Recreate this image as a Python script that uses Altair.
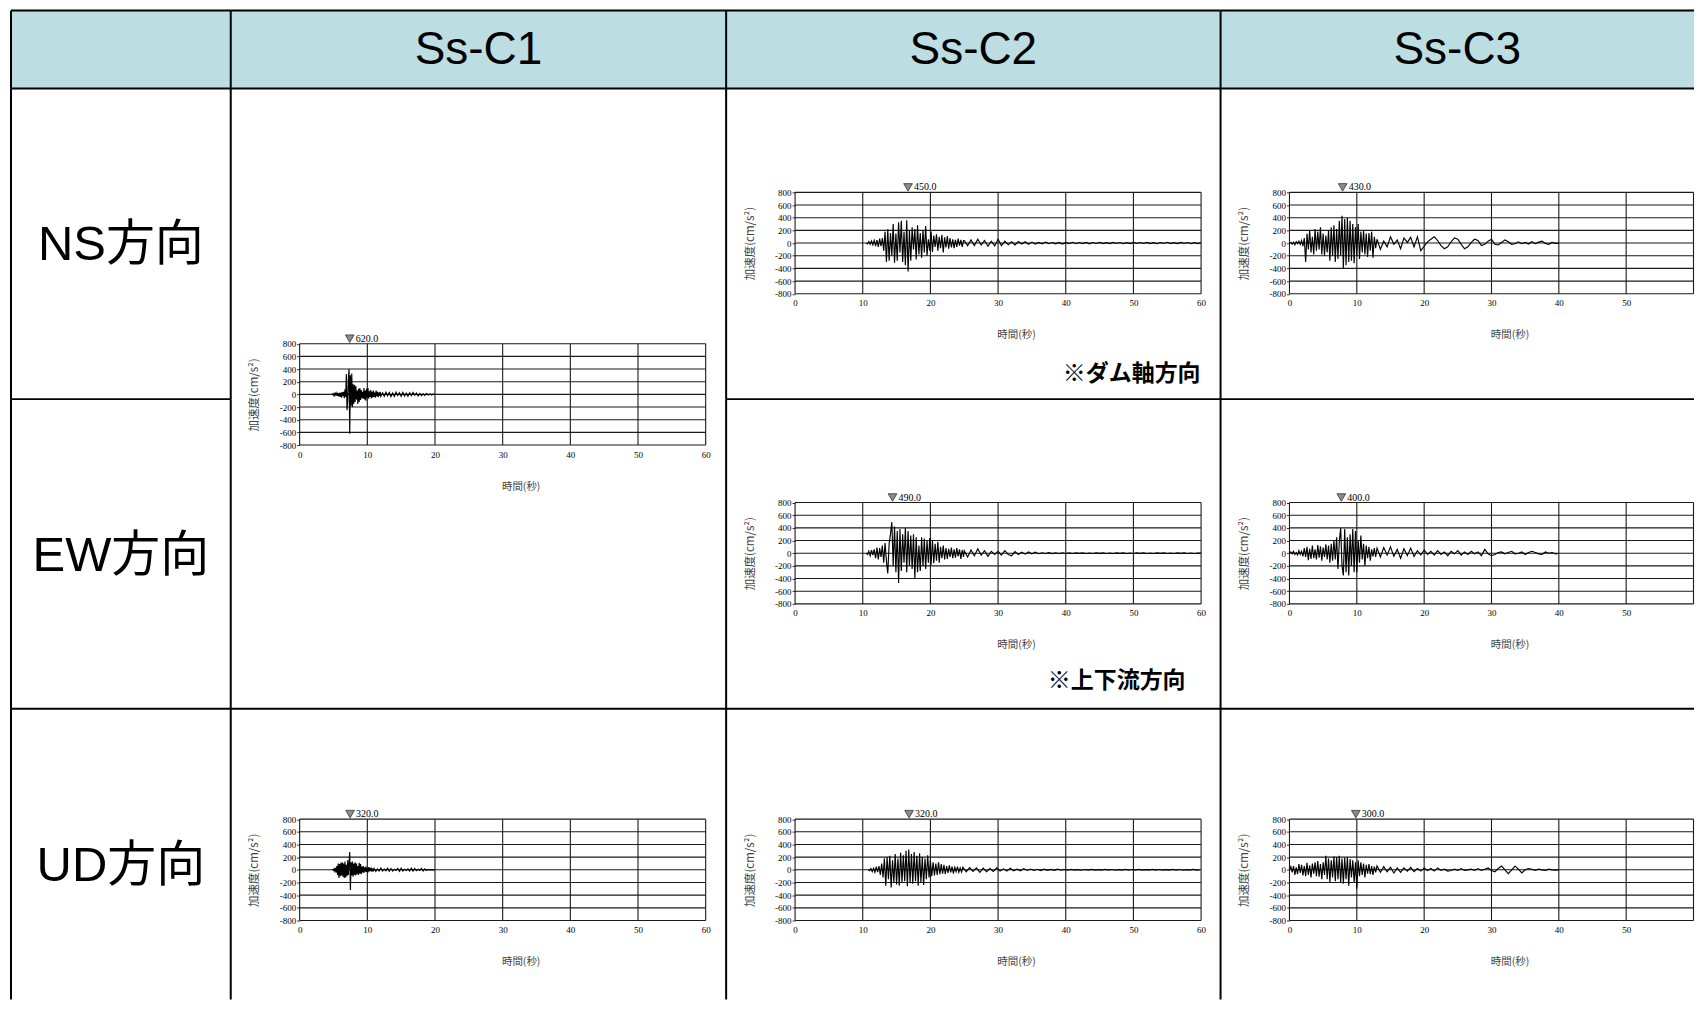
import altair as alt
import pandas as pd

# ---------------- text content ----------------
HEADERS = ["Ss-C1", "Ss-C2", "Ss-C3"]
DIRECTIONS = ["NS方向", "EW方向", "UD方向"]
NOTE_C2_NS = "※ダム軸方向"
NOTE_C2_EW = "※上下流方向"
X_TITLE = "時間(秒)"
Y_TITLE = "加速度(cm/s²)"
X_TICKS = [0, 10, 20, 30, 40, 50, 60]
Y_TICKS = [-800, -600, -400, -200, 0, 200, 400, 600, 800]

# peak markers (time read from the triangle position, label as printed)
PEAK_TIMES = [7.4, 7.45, 16.7, 14.4, 16.85, 7.9, 7.7, 9.85]
PEAK_LABELS = ["620.0", "320.0", "450.0", "490.0", "320.0", "430.0", "400.0", "300.0"]

# ---------------- waveforms ----------------
C1_NS_A = [0, 10, -15, 12, -20, 15, -10, 20, -25, 18, -30, 25, -40, 30, -50, 35, -30, 40,
           -60, 80, -40, 320, -250, -100, 250, 400, -620, 300,
           -180, 330, -200, 160, -150, 150, -120, 130, -80, 60,
           -150, 90, -120, 100, -90, 70, -60, 40, -70, 100,
           -80, 60, -100, 90, -50, 100, -70, 50, -40, 70,
           -60, 40, -50, 60, -40, 30, -50, 60, -30, 40,
           -45, 30, -25, 40]
C1_NS_B = [-30, 25, -30, 35, -25, 30, -35, 20, -30, 35, -20, 25, -30, 30, -25, 20, -30,
           25, -20, 30, -15, 20, -25, 15, -20, 10, -15, 12, -10, 8, -10, 5, 0]

C1_UD_A = [0, 5, -10, 15, -20, 30, -40, 60, -80, 100,
           -130, 90, -100, 110, -90, 120, -110, 100, -130, 130,
           -120, 80, -100, 150, -80, 120, 280, -320, 120, -90,
           130, -110, 100, -80, 120, -90, 100, -70, 60, -80,
           110, -60, 90, -70, 50, -40, 60, -50, 40, -30,
           50, -35, 30, -40, 45, -25, 30, -20, 35, -30,
           20, -25]
C1_UD_B = [20, -25, 15, -20, 25, -20, 10, -15, 25, -25, 20, -20, 10, -10, 20, -25, 25,
           -20, 10, -10, 15, -20, 25, -20, 20, -15, 10, -10, 20, -20, 15, -10, 5, -5, 3, 0, 0]

C2_NS_A = [0, -15, 25, -20, 35, -30, 40, -50, 45, -60, 70, -50, 80,
           -120, 180, -300, 220, -280, 160, -200, 300, -310, 150,
           -280, 330, -150, 350, -300, 180, -350, 360, -450, 200,
           -280, 250, -100, 220, -260, 280, -180, 160, -230, 200,
           -150, 270, -200, 60, -120, 180, -140, 120, -60, 140,
           -120, 100, -80, 130, -150, 90, -70, 110, -90, 80,
           -70, 60, -80, 50, -60, 70, -40, 50, -60, 40]
C2_NS_B = [40, -40, 50, -40, 60, -30, 40, -50, 30, -45,
           60, -40, 30, -25, 20, -30, 25, -15, 20, -20,
           15, -15, 10, -12, 15, -10, 8, -12, 10, -15,
           10, -8, 12, -10, 8, -8, 10, -12, 8, -6,
           10, -8, 6, -8, 10, -6, 8, -10, 6, -8,
           10, -6, 8, -6, 10, -8, 6, -10, 8, -6,
           12, -8, 6, -8, 10, -6, 8, -10, 6, -8, 5]

C2_EW_A = [0, -20, 30, -40, 50, -30, 60, -80, 90, -100, 80, -60, 120,
           -150, 160, -120, -320, 150, 300, 490, -200, 420, -300,
           350, -470, 380, -280, 300, -150, 400, -300, 350, -200,
           280, -250, 300, -400, 250, -300, 120, -280, 250, -200,
           230, -250, 200, -150, 240, -180, 200, -160, 150, -120,
           180, -150, 100, -80, 120, -100, 80, -90, 70, -60,
           90, -80, 60, -70, 80, -50, 60, -90, 50, -60]
C2_EW_B = [40, -60, 50, -40, 70, -30, 40, -50, 30, -20,
           30, -30, 40, -20, -40, 25, -20, 15, -15, 20,
           -10, 15, -8, 6, -5, 8, -6, 5, -4, 6,
           -5, 4, -4, 5, -3, 4, -5, 3, -4, 5,
           -3, 4, -4, 3, -5, 4, -3, 5, -4, 3,
           -4, 5, -3, 4, -4, 3, -5, 4, -3, 4,
           -4, 3, -5, 4, -3, 4, -4, 3, -4, 3, 0]

C2_UD_A = [0, -15, 20, -30, 25, -40, 50, -35, 60, -80,
           100, -120, 180, -250, 200, -150, 220, -280, 150, -200,
           250, -230, 180, -250, 270, -200, 230, -180, 300, -260,
           320, -200, 250, -220, 280, -180, 220, -250, 260, -200,
           200, -240, 180, -150, 230, -120, 150, -100, 120, -90,
           100, -80, 120, -70, 90, -60, 80, -70, 60, -50,
           70, -40, 50, -60, 40, -30, 50, -40, 30, -35]
C2_UD_B = [40, -30, 35, -25, 30, -40, 25, -30, 20, -25,
           30, -20, 15, -20, 25, -15, 10, -15, 20, -10,
           12, -10, 8, -12, 10, -8, 6, -8, 10, -6,
           5, -4, 6, -5, 4, -6, 5, -4, 6, -5,
           4, -5, 6, -4, 5, -6, 4, -5, 6, -4,
           5, -4, 6, -5, 4, -5, 6, -4, 5, -4,
           4, -5, 6, -4, 5, -6, 4, -5, 6, -4, 0]

C3_NS_A = [0, 10, -20, 15, -30, 20, -10, 30, -20, 40,
           -50, 80, -300, 150, -100, 200, -150, 100, -180, 220,
           -120, 180, -100, 250, -180, 150, -200, 120, -150, 200,
           -280, 250, -200, 280, -300, 220, -250, 350, -200, 430,
           -400, 380, -350, 400, -300, 350, -280, 300, -320, 250,
           -200, 300, -250, 180, -150, 200, -180, 150, -220, 160,
           -120, 180, -230, 100, -80]
C3_NS_B = [60, -100, 30, -60, 100, -20, 50, -90, 80, 10, 90, -60, 100, -120,
           -50, 20, 60, 100, 40, -40, -90, -60, 20, 80, 60, -20, -90, -60, 10, 60, 40, -40, -20, 30,
           60, -20, -30, 10, 50, 20, -20, -10, 20, -10, 10, -15, 20, -10, 15, 30, -5, -20, 10, -5, 0]

C3_EW_A = [0, 20, -10, 30, -20, 10, -30, 40, -20, 30,
           -50, 80, -60, 100, -110, 70, -90, 120, -80, 60,
           -100, 130, -70, 110, -120, 90, -60, 140, -100, 120,
           -150, 150, -120, 200, -100, 250, -250, 180, 400, -200,
           -350, 380, -300, 250, -350, 300, -200, 380, -300, 350,
           -300, 200, -150, 280, -100, 150, -200, 120, -80, 100,
           -120, 60, -50, 80, -60]
C3_EW_B = [80, -60, 90, -30, 100, -50, 60, -80, 70, -40, 80, -50, 40, -30,
           50, -20, 30, -30, 40, -20, 20, -40, 30, -10, 40, -30, 20, -20, 30, -10, 20, -40, 60, -10,
           -40, -20, 10, 20, -10, 10, 30, -10, 0, 20, -20, 10, 30, 10, -10, -20, 20, 0, 10, -10, 0]

C3_UD_A = [0, 50, -40, 60, -80, 40, -70, 90, -50, 80,
           -90, 60, -100, 110, -80, 70, -120, 100, -60, 120,
           -100, 140, -110, 90, -150, 120, -80, 220, -150, 180,
           -200, 150, -120, 210, -180, 200, -150, 220, -200, 180,
           -220, 190, -150, 200, -250, 170, -120, 150, -200, 120,
           -300, 150, -100, 120, -80, 100, -120, 80, -60, 90,
           -70, 60, -80, 50, -40]
C3_UD_B = [60, -40, 50, -30, 40, -50, 30, -40, 30, -20, 40, -30, 20, -20,
           30, -10, 20, -20, 30, -10, 10, -20, -10, 10, -10, 20, -10, 0, 10, -10, 20, -10, 10, 30,
           -10, -30, 20, 60, 0, -60, 0, 60, 10, -50, 0, 20, 10, -10, 10, 0, -10, 10, 0, -5, 0]

# ---------------- layout / style ----------------
COL_W = [220, 496, 495, 474]
ROW_H = [78, 311, 310, 291]
PLOT_X = 69
PLOT_W = 406.5
PLOT_W_LAST = 404.5      # right-most column is cut by the page edge
PLOT_H = 101.5
PLOT_TOP = [104, 103.5, 110.5]
PLOT_TOP_MERGED = 255.5
HEADER_FILL = "#BCDEE3"
SANS = "Liberation Sans, Noto Sans CJK JP"
SERIF = "Liberation Serif"
CJK = "Noto Sans CJK JP"
ONE = alt.Data(values=[{"e": 1}])


def wave_df(t0a, dta, va, t0b, dtb, vb):
    t = [round(t0a + i * dta, 3) for i in range(len(va))]
    t += [round(t0b + i * dtb, 3) for i in range(len(vb))]
    return pd.DataFrame({"t": t, "a": list(va) + list(vb)})


def top_edge(w):
    return alt.Chart(ONE).mark_rule(color="black", strokeWidth=2).encode(
        x=alt.value(0), x2=alt.value(w), y=alt.value(0))


def left_edge(h):
    return alt.Chart(ONE).mark_rule(color="black", strokeWidth=2).encode(
        x=alt.value(0), y=alt.value(0), y2=alt.value(h))


def header_cell(w, h, label):
    layers = [alt.Chart(ONE).mark_rect(color=HEADER_FILL).encode(
        x=alt.value(0), x2=alt.value(w), y=alt.value(0), y2=alt.value(h))]
    if label:
        layers.append(alt.Chart(alt.Data(values=[{"label": label}])).mark_text(
            font="Liberation Sans", fontSize=46, color="black", align="center", baseline="middle"
        ).encode(x=alt.value(w / 2), y=alt.value(39), text="label:N"))
    layers += [top_edge(w), left_edge(h)]
    return alt.layer(*layers).properties(width=w, height=h)


def label_cell(w, h, label):
    txt = alt.Chart(alt.Data(values=[{"label": label}])).mark_text(
        font=SANS, fontSize=49, color="black", align="center", baseline="middle"
    ).encode(x=alt.value(w / 2), y=alt.value(157), text="label:N")
    return alt.layer(txt, top_edge(w), left_edge(h)).properties(width=w, height=h)


def empty_cell(w, h):
    return alt.layer(left_edge(h)).properties(width=w, height=h)


def wave_cell(w, h, top, df, peak_t, peak_label, note=None, note_x=0, note_y=0,
              plot_w=PLOT_W, cut=False):
    yb = top + PLOT_H
    xs = alt.Scale(domain=[0, 60], range=[PLOT_X, PLOT_X + plot_w], nice=False, zero=False)
    ys = alt.Scale(domain=[-800, 800], range=[yb, top], nice=False, zero=False)
    x_expr = "datum.value == 60 ? '' : '' + datum.value" if cut else "'' + datum.value"
    xax = alt.Axis(values=X_TICKS, grid=False, domain=False, ticks=False, labelPadding=5,
                   labelFont=SERIF, labelFontSize=9, labelColor="black", labelFlush=False,
                   labelOverlap=False, labelExpr=x_expr, offset=yb - h,
                   title=X_TITLE, titleFont=CJK, titleFontSize=10.5, titleFontWeight="normal",
                   titleColor="#444", titleX=PLOT_X + plot_w / 2 + 18, titleY=41,
                   titleAlign="center", titleBaseline="middle")
    yax = alt.Axis(values=Y_TICKS, grid=False, domain=False, ticks=True, tickSize=3,
                   tickColor="black", tickWidth=0.8, labelPadding=1, labelFont=SERIF,
                   labelFontSize=9, labelColor="black", labelOverlap=False, labelFlush=False,
                   labelExpr="'' + datum.value", offset=-PLOT_X,
                   title=Y_TITLE, titleFont=CJK, titleFontSize=11.5, titleFontWeight="normal",
                   titleColor="#444", titleX=-45, titleY=top + PLOT_H / 2, titleAngle=270,
                   titleAlign="center", titleBaseline="middle")

    vgrid = pd.DataFrame({"t": X_TICKS, "lo": [-800] * len(X_TICKS), "hi": [800] * len(X_TICKS)})
    hgrid = pd.DataFrame({"v": Y_TICKS, "x0": [0] * len(Y_TICKS), "x1": [60] * len(Y_TICKS)})
    peak = pd.DataFrame({"t": [peak_t], "top": [800], "label": [peak_label]})

    g1 = alt.Chart(vgrid).mark_rule(color="#1a1a1a", strokeWidth=1.1).encode(
        x=alt.X("t:Q", scale=xs, axis=xax), y=alt.Y("lo:Q", scale=ys, axis=yax), y2="hi:Q")
    g2 = alt.Chart(hgrid).mark_rule(color="#1a1a1a", strokeWidth=1.1).encode(
        y=alt.Y("v:Q", scale=ys, axis=yax), x=alt.X("x0:Q", scale=xs, axis=xax), x2="x1:Q")
    line = alt.Chart(df).mark_line(color="black", strokeWidth=1.15).encode(
        x=alt.X("t:Q", scale=xs, axis=xax), y=alt.Y("a:Q", scale=ys, axis=yax))
    tri = alt.Chart(peak).mark_point(shape="triangle-down", filled=True, color="#8c8c8c",
                                     stroke="#333", strokeWidth=0.8, size=75, opacity=1,
                                     yOffset=-5).encode(
        x=alt.X("t:Q", scale=xs, axis=xax), y=alt.Y("top:Q", scale=ys, axis=yax))
    ptxt = alt.Chart(peak).mark_text(align="left", baseline="middle", dx=6, dy=-5,
                                     font=SERIF, fontSize=10, color="black").encode(
        x=alt.X("t:Q", scale=xs, axis=xax), y=alt.Y("top:Q", scale=ys, axis=yax),
        text="label:N")
    layers = [g1, g2, line, tri, ptxt]
    if note:
        layers.append(alt.Chart(alt.Data(values=[{"note": note}])).mark_text(
            font=CJK, fontSize=23, fontWeight="bold", color="black", align="right",
            baseline="middle").encode(x=alt.value(note_x), y=alt.value(note_y), text="note:N"))
    layers += [top_edge(w), left_edge(h)]
    return alt.layer(*layers).properties(width=w, height=h)


# ---------------- data frames ----------------
df_c1_nsew = wave_df(4.8, 0.1, C1_NS_A, 12.0, 0.25, C1_NS_B)
df_c1_ud = wave_df(4.8, 0.1, C1_UD_A, 11.0, 0.25, C1_UD_B)
df_c2_ns = wave_df(10.5, 0.2, C2_NS_A, 25.0, 0.5, C2_NS_B)
df_c2_ew = wave_df(10.5, 0.2, C2_EW_A, 25.0, 0.5, C2_EW_B)
df_c2_ud = wave_df(10.8, 0.2, C2_UD_A, 24.8, 0.5, C2_UD_B)
df_c3_ns = wave_df(0.0, 0.2, C3_NS_A, 13.0, 0.5, C3_NS_B)
df_c3_ew = wave_df(0.0, 0.2, C3_EW_A, 13.0, 0.5, C3_EW_B)
df_c3_ud = wave_df(0.0, 0.2, C3_UD_A, 13.0, 0.5, C3_UD_B)

# ---------------- table assembly (one 4-column grid) ----------------
cells = [
    header_cell(COL_W[0], ROW_H[0], ""),
    header_cell(COL_W[1], ROW_H[0], HEADERS[0]),
    header_cell(COL_W[2], ROW_H[0], HEADERS[1]),
    header_cell(COL_W[3], ROW_H[0], HEADERS[2]),

    label_cell(COL_W[0], ROW_H[1], DIRECTIONS[0]),
    wave_cell(COL_W[1], ROW_H[1], PLOT_TOP_MERGED, df_c1_nsew, PEAK_TIMES[0], PEAK_LABELS[0]),
    wave_cell(COL_W[2], ROW_H[1], PLOT_TOP[0], df_c2_ns, PEAK_TIMES[2], PEAK_LABELS[2],
              NOTE_C2_NS, 475, 286),
    wave_cell(COL_W[3], ROW_H[1], PLOT_TOP[0], df_c3_ns, PEAK_TIMES[5], PEAK_LABELS[5],
              plot_w=PLOT_W_LAST, cut=True),

    label_cell(COL_W[0], ROW_H[2], DIRECTIONS[1]),
    empty_cell(COL_W[1], ROW_H[2]),
    wave_cell(COL_W[2], ROW_H[2], PLOT_TOP[1], df_c2_ew, PEAK_TIMES[3], PEAK_LABELS[3],
              NOTE_C2_EW, 460, 282),
    wave_cell(COL_W[3], ROW_H[2], PLOT_TOP[1], df_c3_ew, PEAK_TIMES[6], PEAK_LABELS[6],
              plot_w=PLOT_W_LAST, cut=True),

    label_cell(COL_W[0], ROW_H[3], DIRECTIONS[2]),
    wave_cell(COL_W[1], ROW_H[3], PLOT_TOP[2], df_c1_ud, PEAK_TIMES[1], PEAK_LABELS[1]),
    wave_cell(COL_W[2], ROW_H[3], PLOT_TOP[2], df_c2_ud, PEAK_TIMES[4], PEAK_LABELS[4]),
    wave_cell(COL_W[3], ROW_H[3], PLOT_TOP[2], df_c3_ud, PEAK_TIMES[7], PEAK_LABELS[7],
              plot_w=PLOT_W_LAST, cut=True),
]

chart = alt.concat(*cells, columns=4, spacing=0, bounds="flush").properties(
    padding={"left": 1, "top": 0, "right": 0, "bottom": 0},
    background="white",
).configure_view(stroke="transparent")

chart.save("out.html", embed_options={"renderer": "svg", "actions": False})
